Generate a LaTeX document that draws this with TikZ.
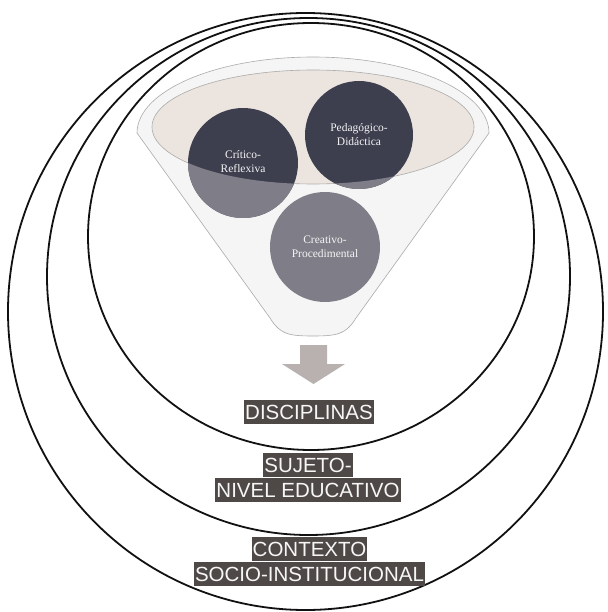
\documentclass[tikz,border=0pt]{standalone}
\usepackage{fontspec}
\usetikzlibrary{positioning}
\newfontfamily\lblfont{Liberation Sans}
\newfontfamily\ballfont{Liberation Serif}
\definecolor{ringblack}{HTML}{111111}
\definecolor{balldark}{HTML}{3D3F4F}
\definecolor{balllow}{HTML}{7F7E88}
\definecolor{mouth}{HTML}{ECE5DF}
\definecolor{funnelfill}{HTML}{F5F5F5}
\definecolor{funnelline}{HTML}{ABABAB}
\definecolor{arrowgray}{HTML}{B8B1B0}
\definecolor{lblback}{HTML}{4E4846}

\begin{document}
\begin{tikzpicture}[x=1pt, y=-1pt,
    ring/.style={draw=ringblack, line width=1.8pt},
    balltext/.style={circle, minimum size=108pt, inner sep=0pt, align=center, text=white!92!gray, font=\ballfont\fontsize{11.5}{14}\selectfont},
    lbl/.style={fill=lblback, text=white!95!lblback, inner xsep=1pt, inner ysep=0pt, minimum height=24.5pt, text height=15pt, text depth=0pt, font=\lblfont\fontsize{20.5}{24}\selectfont}]
    \useasboundingbox (0,0) rectangle (607,612);
    \fill[white] (0,0) rectangle (607,612);
    % rings
    \draw[ring] (305.5,311.5) ellipse (297.5 and 298.5);
    \draw[ring] (308.5,276.5) ellipse (261.5 and 258.5);
    \draw[ring] (311,236.5) ellipse (223 and 213.5);
    % funnel
    \draw[funnelline, fill=funnelfill, line width=0.6pt] (137,133) arc[start angle=180, end angle=360, x radius=176, y radius=76]
        -- (356,318) .. controls (346,334) and (338,336) .. (313,336) .. controls (288,336) and (280,334) .. (270,318) -- cycle;
    \draw[funnelline, fill=mouth, line width=0.6pt] (313,127) ellipse (161 and 57);
    % balls
    \fill[balldark] (243,163) circle (55);
    \fill[balldark] (359,135) circle (54);
    \fill[balllow] (325,247) circle (55);
    \begin{scope}
        \clip (243,163) circle (55) (359,135) circle (54);
        \fill[balllow, even odd rule] (0,0) rectangle (607,612) (313,127) ellipse (161 and 57);
    \end{scope}
    \node[balltext] (critico) at (243,162) {Crítico-\\Reflexiva};
    \node[balltext] (pedagogico) at (359,135) {Pedagógico-\\Didáctica};
    \node[balltext] (creativo) at (325,247) {Creativo-\\Procedimental};
    % arrow
    \fill[arrowgray] (300,345) -- (327,345) -- (327,364) -- (345,364) -- (313.5,384) -- (282,364) -- (300,364) -- cycle;
    % labels
    \node[lbl] (disciplinas) at (309,412) {DISCIPLINAS};
    \node[lbl] (sujeto) at (308,465) {SUJETO-};
    \node[lbl, below=0pt of sujeto] (nivel) {NIVEL EDUCATIVO};
    \node[lbl] (contexto) at (309.5,549) {CONTEXTO};
    \node[lbl, below=0pt of contexto] (socio) {SOCIO-INSTITUCIONAL};
\end{tikzpicture}
\end{document}
